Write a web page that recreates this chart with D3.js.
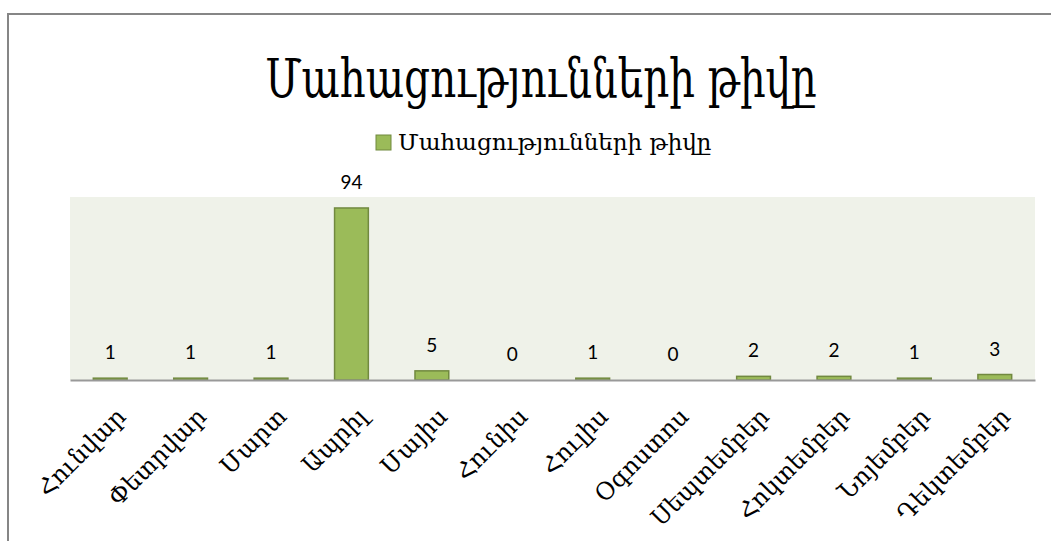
<!DOCTYPE html>
<html>
<head>
<meta charset="utf-8">
<script src="https://cdn.jsdelivr.net/npm/d3@7"></script>
<style>
  body { margin: 0; background: #fff; }
</style>
</head>
<body>
<script>
// data
var months = ["Հունվար", "Փետրվար", "Մարտ", "Ապրիլ", "Մայիս", "Հունիս",
  "Հուլիս", "Օգոստոս", "Սեպտեմբեր", "Հոկտեմբեր", "Նոյեմբեր", "Դեկտեմբեր"];
var deaths = [1, 1, 1, 94, 5, 0, 1, 0, 2, 2, 1, 3];
var seriesName = "Մահացությունների թիվը";
var chartTitle = "Մահացությունների թիվը";

var width = 1051, height = 541;
var margin = { top: 197, left: 70, right: 16, bottom: 161 };
var plotW = width - margin.left - margin.right,
  plotH = height - margin.top - margin.bottom;

var svg = d3.select("body").append("svg")
  .attr("width", width)
  .attr("height", height);

// chart frame (runs off the right and bottom edges)
svg.append("rect")
  .attr("x", 8).attr("y", 14)
  .attr("width", width + 20).attr("height", height + 20)
  .attr("fill", "none")
  .attr("stroke", "#868686")
  .attr("stroke-width", 2);

// title, squeezed to get the tall narrow look of the original
svg.append("text")
  .attr("transform", "translate(541,97) scale(0.75,1)")
  .attr("text-anchor", "middle")
  .style("font-family", "DejaVu Serif")
  .style("font-size", "54px")
  .text(chartTitle);

// legend
var legend = svg.append("g").attr("transform", "translate(376,135)");
legend.append("rect")
  .attr("width", 15).attr("height", 15)
  .attr("fill", "#9bbb59")
  .attr("stroke", "#71893f");
legend.append("text")
  .attr("x", 22).attr("y", 15)
  .style("font-family", "DejaVu Serif")
  .style("font-size", "23px")
  .text(seriesName);

var g = svg.append("g")
  .attr("transform", "translate(" + margin.left + "," + margin.top + ")");

var x = d3.scaleBand().domain(months).range([0, plotW]).paddingInner(0.58).paddingOuter(0.29);
var y = d3.scaleLinear().domain([0, 100]).range([plotH, 0]);

g.append("rect")
  .attr("width", plotW).attr("height", plotH)
  .attr("fill", "#eff2e9");

g.selectAll(".bar")
  .data(deaths)
  .enter()
  .append("rect")
  .attr("class", "bar")
  .attr("x", function (d, i) { return x(months[i]); })
  .attr("y", function (d) { return y(d); })
  .attr("width", x.bandwidth())
  .attr("height", function (d) { return plotH - y(d); })
  .attr("fill", "#9bbb59")
  .attr("stroke", "#71893f")
  .attr("stroke-width", 1.5)
  .style("display", function (d) { return d > 0 ? null : "none"; });

g.selectAll(".val")
  .data(deaths)
  .enter()
  .append("text")
  .attr("class", "val")
  .attr("x", function (d, i) { return x(months[i]) + x.bandwidth() / 2; })
  .attr("y", function (d) { return y(d) - 19; })
  .attr("text-anchor", "middle")
  .style("font-family", "Lato")
  .style("font-size", "19px")
  .text(function (d) { return d; });

// x axis
var xAxis = g.append("g")
  .attr("transform", "translate(0," + plotH + ")")
  .call(d3.axisBottom(x).tickSize(0).tickPadding(0));
xAxis.select(".domain").attr("stroke", "#999").attr("stroke-width", 2);
xAxis.selectAll("text")
  .style("font-family", "DejaVu Serif")
  .style("font-size", "24px")
  .attr("fill", "#000")
  .attr("text-anchor", "end")
  .attr("dy", null)
  .attr("y", null)
  .attr("transform", "translate(17,38) rotate(-45)");
</script>
</body>
</html>
